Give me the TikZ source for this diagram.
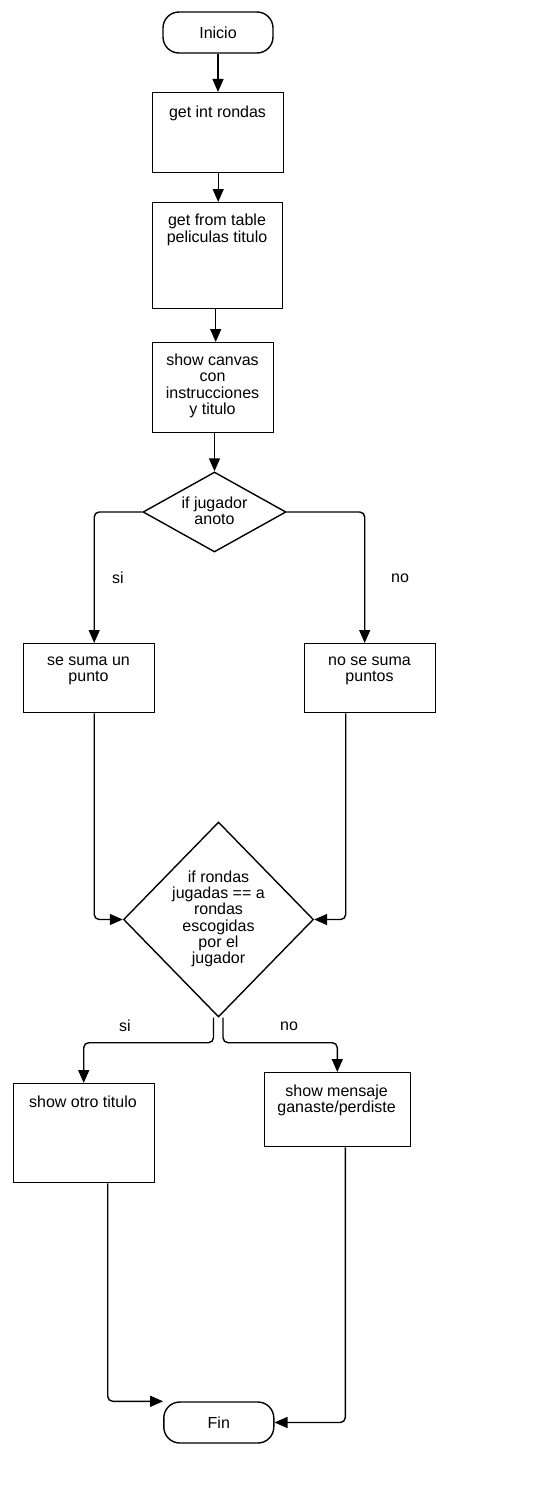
\documentclass[tikz,border=0pt]{standalone}
\usepackage{fontspec}
\setmainfont{Liberation Sans}
\usetikzlibrary{arrows.meta,shapes.geometric,calc}
\begin{document}
\begin{tikzpicture}[x=1pt,y=-1pt,
 every node/.style={font=\fontsize{16}{16.3}\selectfont, text=black},
 box/.style={draw, line width=1.4pt, fill=white, rectangle, inner sep=0pt, anchor=north west},
 term/.style={draw, line width=1.4pt, fill=white, rounded corners=16pt, minimum width=110pt, minimum height=41pt, inner sep=0pt},
 dec/.style={draw, line width=1.4pt, fill=white, diamond, inner sep=0pt},
 lbl/.style={align=center, inner sep=0pt},
 arr/.style={line width=1.4pt, -{Triangle[length=13pt,width=11pt]}, rounded corners=5pt}
]
\useasboundingbox (0,0) rectangle (557,1493);
\fill[white] (0,0) rectangle (557,1493);

\node[term] (inicio) at (218,32.5) {Inicio};
\node[box, minimum width=131pt, minimum height=80pt] (rondas) at (152,92) {};
\node[lbl] (trondas) at (217.5,113) {get int rondas};
\node[box, minimum width=130pt, minimum height=106pt] (table) at (152,202) {};
\node[lbl] (ttable) at (217,230) {get from table\\peliculas titulo};
\node[box, minimum width=121pt, minimum height=90pt] (canvas) at (152,342) {};
\node[lbl] (tcanvas) at (212.5,386) {show canvas\\con\\instrucciones\\y titulo};

\node[dec, minimum width=143pt, minimum height=80pt] (d1) at (214.5,512) {};
\node[lbl] (td1) at (214.5,511) {if jugador\\anoto};
\node[box, minimum width=131pt, minimum height=69pt] (suma) at (23,643) {};
\node[lbl] (tsuma) at (88.5,671) {se suma un\\punto};
\node[box, minimum width=131pt, minimum height=69pt] (nosuma) at (304,643) {};
\node[lbl] (tnosuma) at (369.5,671) {no se suma\\puntos};

\node[dec, minimum width=190pt, minimum height=195pt] (d2) at (218.5,919.5) {};
\node[lbl] (td2) at (218.5,919) {if rondas\\jugadas == a\\rondas\\escogidas\\por el\\jugador};
\node[box, minimum width=141pt, minimum height=99pt] (otro) at (12.5,1083) {};
\node[lbl] (totro) at (83,1102) {show otro titulo};
\node[box, minimum width=146pt, minimum height=74pt] (mensaje) at (263.6,1072) {};
\node[lbl] (tmensaje) at (336.6,1100.5) {show mensaje\\ganaste/perdiste};
\node[term] (fin) at (218.8,1422.5) {Fin};

\coordinate (a1) at ($(table.south)+(-2,0)$);
\draw[arr] (inicio.south) -- (inicio.south |- rondas.north);
\draw[arr] (rondas.south) -- (rondas.south |- table.north);
\draw[arr] (a1) -- (a1 |- canvas.north);
\draw[arr] (canvas.south -| d1.north) -- (d1.north);

\draw[arr] (d1.west) -| ($(suma.north)+(5,0)$);
\draw[arr] (d1.east) -| ($(nosuma.north)+(-5.5,0)$);
\node[lbl] (si1) at (118,578) {si};
\node[lbl] (no1) at (400,578) {no};

\draw[arr] ($(suma.south)+(5,0)$) |- (d2.west);
\draw[arr] ($(nosuma.south)+(-24.5,0)$) |- (d2.east);

\draw[arr] ($(d2.south)+(-5,0)$) -- ++(0,25) -| (otro.north);
\draw[arr] ($(d2.south)+(4.5,0)$) -- ++(0,25) -| (mensaje.north);
\node[lbl] (si2) at (125,1026) {si};
\node[lbl] (no2) at (289,1026) {no};

\draw[arr] ($(otro.south)+(24,0)$) |- (fin.north west);
\draw[arr] ($(mensaje.south)+(8,0)$) |- (fin.east);
\end{tikzpicture}
\end{document}
